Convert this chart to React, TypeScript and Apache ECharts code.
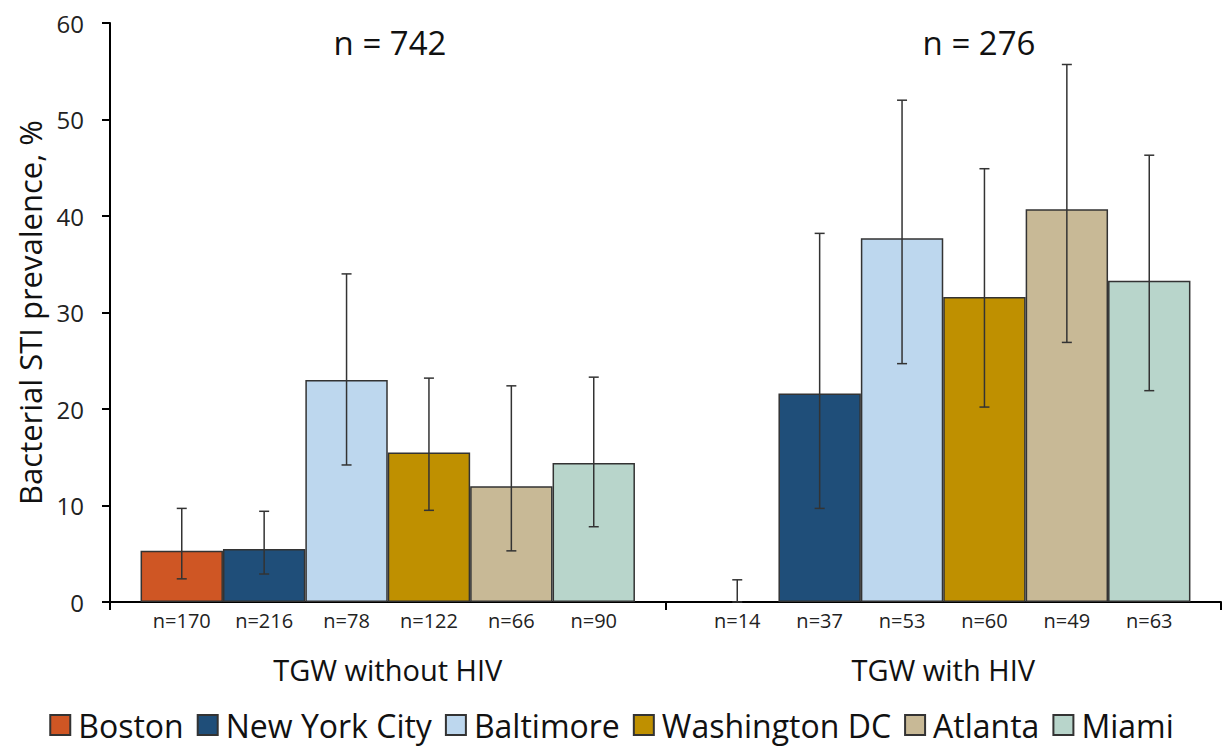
import React, { useEffect, useRef } from "react";
import * as echarts from "echarts";

const groups = ["TGW without HIV", "TGW with HIV"];
const groupTotals = ["n = 742", "n = 276"];
const cities = ["Boston", "New York City", "Baltimore", "Washington DC", "Atlanta", "Miami"];
const cityColors = ["#CF5624", "#1F4E79", "#BDD7EE", "#BF9000", "#C8B996", "#B8D5CB"];

// prevalence (%) per city: [without HIV, with HIV]
const boston = [5.3, 0];
const newYork = [5.5, 21.6];
const baltimore = [23.0, 37.7];
const washington = [15.5, 31.6];
const atlanta = [12.0, 40.7];
const miami = [14.4, 33.3];

// 95% CI lower / upper
const bostonCI = [[2.4, 9.7], [0, 2.3]];
const newYorkCI = [[2.9, 9.4], [9.7, 38.2]];
const baltimoreCI = [[14.2, 34.0], [24.7, 52.0]];
const washingtonCI = [[9.5, 23.2], [20.2, 44.9]];
const atlantaCI = [[5.3, 22.4], [26.9, 55.7]];
const miamiCI = [[7.8, 23.3], [21.9, 46.3]];

// sample sizes
const bostonN = [170, 14];
const newYorkN = [216, 37];
const baltimoreN = [78, 53];
const washingtonN = [122, 60];
const atlantaN = [66, 49];
const miamiN = [90, 63];

const yTicks = [0, 10, 20, 30, 40, 50, 60];

const values = [boston, newYork, baltimore, washington, atlanta, miami];
const cis = [bostonCI, newYorkCI, baltimoreCI, washingtonCI, atlantaCI, miamiCI];
const ns = [bostonN, newYorkN, baltimoreN, washingtonN, atlantaN, miamiN];

const FONT = "Open Sans";
const CAT_GAP = 0.11;

export default function App() {
  const ref = useRef<HTMLDivElement>(null);
  useEffect(() => {
    if (!ref.current) return;
    const chart = echarts.init(ref.current, undefined, { renderer: "svg" });

    const barSeries = cities.map((city, i) => ({
      name: city,
      type: "bar",
      barGap: "0%",
      barCategoryGap: CAT_GAP * 100 + "%",
      itemStyle: { color: cityColors[i], borderColor: "#333", borderWidth: 1.5 },
      label: {
        show: true,
        position: "bottom",
        distance: 8,
        fontFamily: FONT,
        fontSize: 20,
        color: "#222",
        formatter: (p: any) => "n=" + ns[i][p.dataIndex],
      },
      data: values[i].map((v) => (v === 0 ? { value: v, itemStyle: { borderWidth: 0 } } : v)),
      z: 2,
    }));

    const errData: any[] = [];
    cis.forEach((ci, si) => {
      ci.forEach((lh, gi) => {
        errData.push([gi, si, lh[0], lh[1]]);
      });
    });

    const errSeries = {
      type: "custom",
      name: "err",
      z: 5,
      renderItem: (params: any, api: any) => {
        const gi = api.value(0);
        const si = api.value(1);
        const lo = api.value(2);
        const hi = api.value(3);
        const band = api.size([1, 0])[0];
        const groupW = band * (1 - CAT_GAP);
        const barW = groupW / cities.length;
        const center = api.coord([gi, 0]);
        const x = center[0] - groupW / 2 + (si + 0.5) * barW;
        const yLo = api.coord([gi, lo])[1];
        const yHi = api.coord([gi, hi])[1];
        const cap = 5;
        const style = { stroke: "#333", lineWidth: 1.5 };
        return {
          type: "group",
          children: [
            { type: "line", shape: { x1: x, y1: yLo, x2: x, y2: yHi }, style },
            { type: "line", shape: { x1: x - cap, y1: yHi, x2: x + cap, y2: yHi }, style },
            { type: "line", shape: { x1: x - cap, y1: yLo, x2: x + cap, y2: yLo }, style },
          ],
        };
      },
      data: errData,
      encode: { x: 0, y: 3 },
    };

    chart.setOption({
      animation: false,
      textStyle: { fontFamily: FONT },
      grid: { left: 110, right: 2, top: 23, bottom: 145, containLabel: false },
      legend: {
        data: cities,
        bottom: 1,
        left: "center",
        itemWidth: 20,
        itemHeight: 20,
        itemGap: 13,
        icon: "rect",
        textStyle: { fontFamily: FONT, fontSize: 32, color: "#111", padding: [0, 0, 0, 3] },
      },
      xAxis: {
        type: "category",
        data: groups,
        axisLine: { lineStyle: { color: "#000", width: 2 } },
        axisTick: { show: true, length: 8, lineStyle: { color: "#000", width: 2 } },
        axisLabel: { margin: 53, fontFamily: FONT, fontSize: 29, color: "#111" },
      },
      yAxis: {
        type: "value",
        min: yTicks[0],
        max: yTicks[yTicks.length - 1],
        interval: 10,
        name: "Bacterial STI prevalence, %",
        nameLocation: "middle",
        nameGap: 62,
        nameTextStyle: { fontFamily: FONT, fontSize: 31, color: "#111" },
        axisLine: { show: true, lineStyle: { color: "#000", width: 2 } },
        axisTick: { show: true, length: 8, lineStyle: { color: "#000", width: 2 } },
        splitLine: { show: false },
        axisLabel: { margin: 26, fontFamily: FONT, fontSize: 24, color: "#222" },
      },
      graphic: [
        {
          type: "text",
          x: 390,
          y: 42,
          style: { text: groupTotals[0], fontFamily: FONT, fontSize: 33, fill: "#111", align: "center", verticalAlign: "middle" },
        },
        {
          type: "text",
          x: 979,
          y: 42,
          style: { text: groupTotals[1], fontFamily: FONT, fontSize: 33, fill: "#111", align: "center", verticalAlign: "middle" },
        },
      ],
      series: [...barSeries, errSeries],
    });
    return () => chart.dispose();
  }, []);
  return (
    <div
      ref={ref}
      style={{ position: "fixed", left: 0, top: 0, width: 1223, height: 747, background: "#fff" }}
    />
  );
}
